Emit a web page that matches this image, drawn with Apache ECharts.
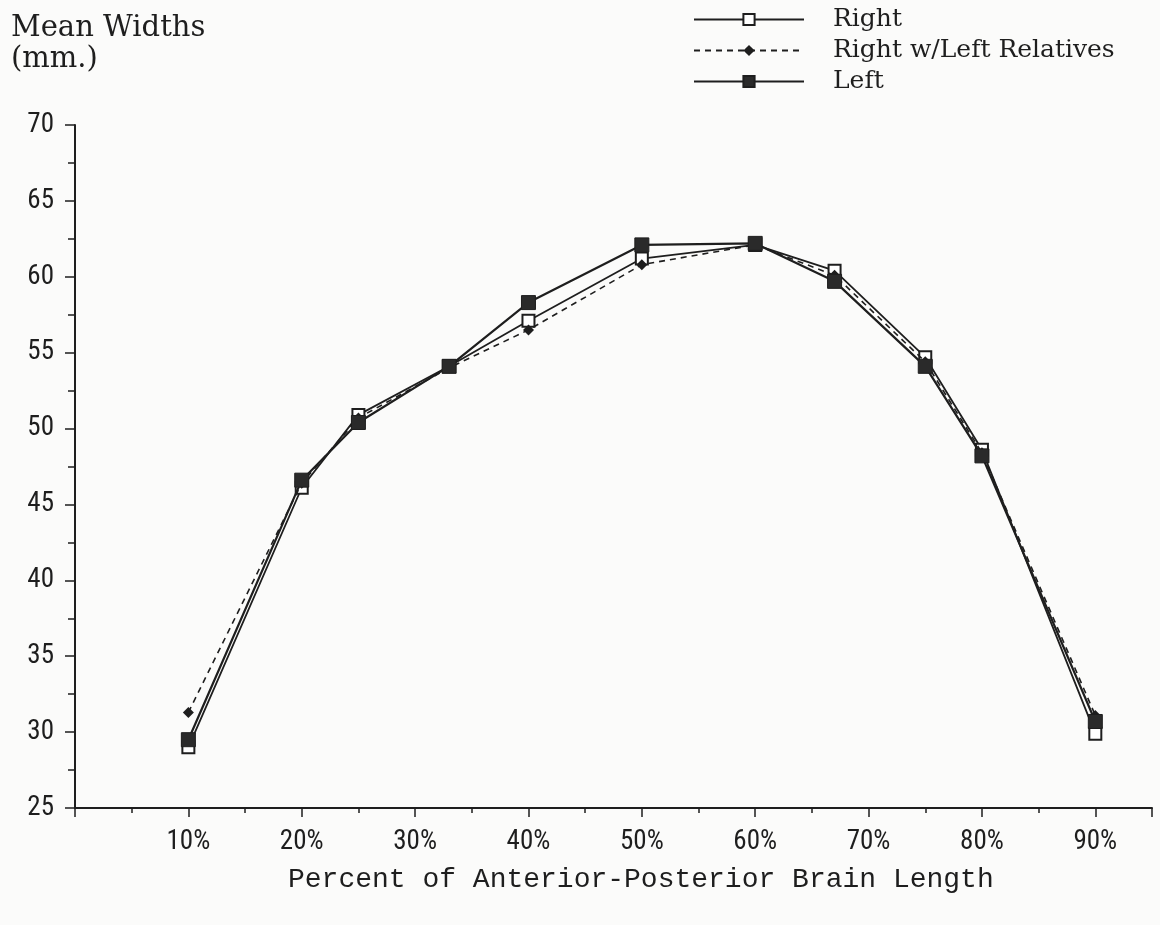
<!DOCTYPE html>
<html>
<head>
<meta charset="utf-8">
<title>Mean Widths</title>
<script src="https://cdn.jsdelivr.net/npm/echarts@6/dist/echarts.min.js"></script>
<style>
  html, body { margin: 0; padding: 0; background: #fbfbfa; }
  #chart { width: 1160px; height: 925px; }
</style>
</head>
<body>
<div id="chart"></div>
<script>
// Position along the brain (percent of anterior-posterior length)
const positions = [10, 20, 25, 33, 40, 50, 60, 67, 75, 80, 90];

// Mean widths in mm
const rightWidths = [29.0, 46.1, 50.9, 54.1, 57.1, 61.2, 62.1, 60.4, 54.7, 48.6, 29.9];
const rightWithLeftRelWidths = [31.3, 46.4, 50.7, 54.0, 56.5, 60.8, 62.1, 60.1, 54.4, 48.4, 31.1];
const leftWidths = [29.5, 46.6, 50.4, 54.1, 58.3, 62.1, 62.2, 59.7, 54.1, 48.2, 30.7];

const seriesNames = ['Right', 'Right w/Left Relatives', 'Left'];
const xTickLabels = [10, 20, 30, 40, 50, 60, 70, 80, 90];

const ink = '#1e1e1e';
const tickFont = '"Liberation Sans Narrow", "Roboto Condensed", Roboto, sans-serif';
const serifFont = '"DejaVu Serif", "Liberation Serif", serif';
const monoFont = '"Liberation Mono", "DejaVu Sans Mono", monospace';

const pairs = vals => positions.map((p, i) => [p, vals[i]]);

const chart = echarts.init(document.getElementById('chart'), null, { renderer: 'canvas' });

chart.setOption({
  backgroundColor: '#fbfbfa',
  animation: false,
  title: [
    {
      text: 'Mean Widths\n(mm.)',
      left: 6, top: 8,
      textStyle: { fontFamily: serifFont, fontSize: 29, fontWeight: 'normal', color: ink, lineHeight: 31 }
    },
    {
      text: 'Percent of Anterior-Posterior Brain Length',
      left: 283, top: 861,
      textStyle: { fontFamily: monoFont, fontSize: 28, fontWeight: 'normal', color: ink }
    }
  ],
  legend: {
    data: seriesNames,
    orient: 'vertical',
    left: 688, top: 2,
    itemWidth: 110, itemHeight: 14,
    itemGap: 6,
    textStyle: { fontFamily: serifFont, fontSize: 25, color: ink, padding: [0, 0, 0, 24] }
  },
  grid: { left: 75, right: 8, top: 125, bottom: 117, containLabel: false },
  xAxis: {
    type: 'value',
    min: 0, max: 95, interval: 10,
    axisLine: { lineStyle: { color: ink, width: 2 } },
    axisTick: { show: true, length: 9, lineStyle: { color: ink, width: 1.5 } },
    minorTick: { show: true, splitNumber: 2, length: 5, lineStyle: { color: ink, width: 1.5 } },
    splitLine: { show: false },
    minorSplitLine: { show: false },
    axisLabel: {
      margin: 21,
      fontFamily: tickFont, fontSize: 27, color: ink,
      formatter: v => (xTickLabels.indexOf(v) >= 0 ? v + '%' : '')
    }
  },
  yAxis: {
    type: 'value',
    min: 25, max: 70, interval: 5,
    axisLine: { show: true, lineStyle: { color: ink, width: 2 } },
    axisTick: { show: true, length: 10, lineStyle: { color: ink, width: 1.5 } },
    minorTick: { show: true, splitNumber: 2, length: 7, lineStyle: { color: ink, width: 1.5 } },
    splitLine: { show: false },
    axisLabel: { margin: 21, fontFamily: tickFont, fontSize: 27, color: ink }
  },
  series: [
    {
      name: seriesNames[0],
      type: 'line',
      data: pairs(rightWidths),
      symbol: 'rect', symbolSize: 12,
      lineStyle: { color: ink, width: 1.8 },
      itemStyle: { color: '#ffffff', borderColor: ink, borderWidth: 2 },
      z: 2
    },
    {
      name: seriesNames[1],
      type: 'line',
      data: pairs(rightWithLeftRelWidths),
      symbol: 'diamond', symbolSize: 11,
      lineStyle: { color: ink, width: 1.6, type: [6, 5] },
      itemStyle: { color: ink, borderColor: ink, borderWidth: 0 },
      z: 3
    },
    {
      name: seriesNames[2],
      type: 'line',
      data: pairs(leftWidths),
      symbol: 'rect', symbolSize: 14,
      lineStyle: { color: ink, width: 2.2 },
      itemStyle: { color: '#2a2a2a', borderColor: ink, borderWidth: 1 },
      z: 4
    }
  ]
});
</script>
</body>
</html>
